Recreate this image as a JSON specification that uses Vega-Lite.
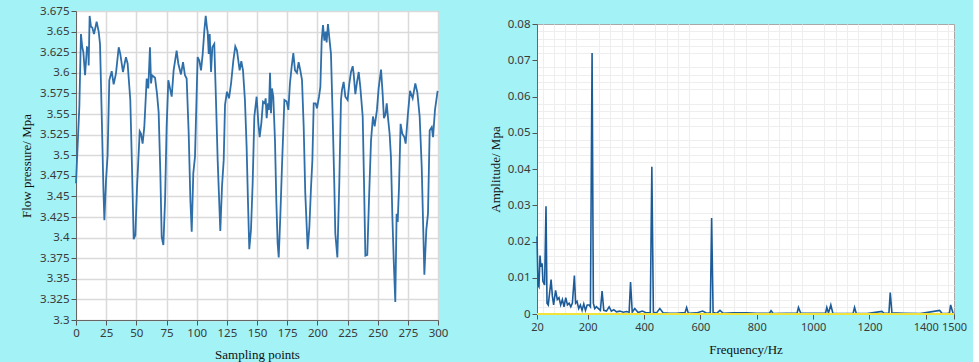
{
"$schema": "https://vega.github.io/schema/vega-lite/v6.json",
"background": "#a3f2f5",
"padding": {"left": 20, "top": 4, "right": 5, "bottom": 2},
"spacing": 39,
"config": {
  "view": {"fill": "white", "stroke": "#a8a8a8"},
  "axis": {"labelFont": "Noto Sans", "labelFontSize": 11.5, "labelColor": "#3a3a3a", "labelFlush": false, "titleFont": "Liberation Serif", "titleFontSize": 13, "titleFontWeight": "normal", "titleColor": "#111111", "gridColor": "#dadada", "tickColor": "#555555", "domainColor": "#666666", "tickSize": 5, "labelPadding": 2}
},
"hconcat": [
{
  "width": 362, "height": 309,
  "data": {"values": [
{"s":0,"p":3.466},{"s":2.8,"p":3.56},{"s":4.1,"p":3.647},{"s":5.2,"p":3.631},{"s":6.1,"p":3.625},{"s":7.5,"p":3.597},{"s":9.1,"p":3.631},{"s":10.2,"p":3.63},{"s":10.5,"p":3.609},{"s":11.3,"p":3.669},{"s":12.4,"p":3.656},{"s":13.5,"p":3.655},{"s":14.9,"p":3.647},{"s":17.1,"p":3.662},{"s":18.8,"p":3.65},{"s":19.9,"p":3.635},{"s":21.3,"p":3.55},{"s":22.7,"p":3.46},{"s":23.5,"p":3.421},{"s":24.9,"p":3.47},{"s":26.2,"p":3.5},{"s":27.6,"p":3.591},{"s":29.6,"p":3.602},{"s":31.2,"p":3.586},{"s":33.1,"p":3.599},{"s":35.4,"p":3.631},{"s":36.7,"p":3.623},{"s":38.9,"p":3.601},{"s":41.4,"p":3.619},{"s":42.8,"p":3.611},{"s":45,"p":3.567},{"s":46.4,"p":3.486},{"s":47.8,"p":3.398},{"s":49.2,"p":3.403},{"s":50.6,"p":3.462},{"s":52.8,"p":3.529},{"s":53.9,"p":3.526},{"s":55.2,"p":3.514},{"s":56.6,"p":3.534},{"s":58.6,"p":3.593},{"s":59.9,"p":3.581},{"s":61.3,"p":3.631},{"s":62.2,"p":3.587},{"s":63,"p":3.597},{"s":65.5,"p":3.594},{"s":67.1,"p":3.575},{"s":68.5,"p":3.552},{"s":69.9,"p":3.478},{"s":71,"p":3.401},{"s":72.4,"p":3.391},{"s":73.8,"p":3.445},{"s":75.1,"p":3.534},{"s":76.5,"p":3.591},{"s":78.2,"p":3.579},{"s":79.3,"p":3.571},{"s":80.9,"p":3.603},{"s":83.4,"p":3.627},{"s":84.8,"p":3.611},{"s":87,"p":3.598},{"s":88.7,"p":3.613},{"s":90.3,"p":3.597},{"s":91.7,"p":3.593},{"s":93.4,"p":3.526},{"s":94.8,"p":3.445},{"s":95.9,"p":3.407},{"s":97.2,"p":3.478},{"s":98.6,"p":3.498},{"s":100.8,"p":3.619},{"s":102.2,"p":3.615},{"s":103.6,"p":3.603},{"s":105,"p":3.623},{"s":106.4,"p":3.652},{"s":107.5,"p":3.669},{"s":108.6,"p":3.654},{"s":109.1,"p":3.65},{"s":110,"p":3.623},{"s":110.8,"p":3.647},{"s":111.9,"p":3.601},{"s":113,"p":3.631},{"s":114.6,"p":3.635},{"s":116,"p":3.567},{"s":117.4,"p":3.494},{"s":119.6,"p":3.408},{"s":121,"p":3.462},{"s":122.4,"p":3.494},{"s":123.5,"p":3.561},{"s":125.1,"p":3.577},{"s":126.8,"p":3.569},{"s":128.5,"p":3.587},{"s":130.4,"p":3.615},{"s":132,"p":3.632},{"s":133.4,"p":3.627},{"s":134.5,"p":3.615},{"s":135.6,"p":3.603},{"s":137,"p":3.614},{"s":138.4,"p":3.603},{"s":140,"p":3.567},{"s":141.4,"p":3.51},{"s":142.5,"p":3.445},{"s":143.6,"p":3.386},{"s":145,"p":3.409},{"s":146.4,"p":3.466},{"s":147.8,"p":3.547},{"s":149.7,"p":3.571},{"s":151.1,"p":3.539},{"s":152.2,"p":3.522},{"s":153.6,"p":3.539},{"s":155,"p":3.565},{"s":156.4,"p":3.563},{"s":157.2,"p":3.569},{"s":158,"p":3.545},{"s":159.1,"p":3.563},{"s":159.9,"p":3.555},{"s":160.8,"p":3.6},{"s":161.6,"p":3.551},{"s":162.4,"p":3.581},{"s":163.5,"p":3.571},{"s":164.9,"p":3.518},{"s":166,"p":3.445},{"s":167.1,"p":3.393},{"s":168,"p":3.376},{"s":169.3,"p":3.425},{"s":170.7,"p":3.486},{"s":172.7,"p":3.567},{"s":174.6,"p":3.565},{"s":176,"p":3.555},{"s":177.3,"p":3.587},{"s":178.7,"p":3.607},{"s":180.1,"p":3.624},{"s":181.5,"p":3.603},{"s":183.1,"p":3.6},{"s":184.5,"p":3.613},{"s":185.9,"p":3.603},{"s":187.3,"p":3.591},{"s":188.7,"p":3.534},{"s":190,"p":3.454},{"s":192,"p":3.386},{"s":193.4,"p":3.413},{"s":194.8,"p":3.462},{"s":195.9,"p":3.494},{"s":197,"p":3.563},{"s":198.6,"p":3.563},{"s":199.7,"p":3.557},{"s":201.4,"p":3.571},{"s":202.5,"p":3.583},{"s":203.6,"p":3.639},{"s":204.7,"p":3.658},{"s":205.8,"p":3.639},{"s":206.9,"p":3.65},{"s":207.7,"p":3.637},{"s":208.8,"p":3.659},{"s":209.9,"p":3.643},{"s":211.3,"p":3.623},{"s":212.7,"p":3.547},{"s":214.1,"p":3.462},{"s":214.9,"p":3.405},{"s":216.6,"p":3.376},{"s":218.2,"p":3.466},{"s":219.6,"p":3.567},{"s":220.4,"p":3.579},{"s":221.8,"p":3.589},{"s":223.2,"p":3.571},{"s":225.1,"p":3.567},{"s":226.5,"p":3.587},{"s":227.9,"p":3.601},{"s":229.3,"p":3.608},{"s":230.1,"p":3.599},{"s":231.5,"p":3.574},{"s":232.9,"p":3.589},{"s":234.3,"p":3.601},{"s":235.6,"p":3.583},{"s":237.6,"p":3.547},{"s":238.7,"p":3.466},{"s":239.8,"p":3.378},{"s":241.4,"p":3.379},{"s":242.8,"p":3.445},{"s":244.5,"p":3.518},{"s":246.1,"p":3.547},{"s":247.5,"p":3.535},{"s":249.4,"p":3.555},{"s":250.8,"p":3.581},{"s":252.8,"p":3.604},{"s":254.1,"p":3.575},{"s":255.2,"p":3.545},{"s":256.4,"p":3.549},{"s":257.5,"p":3.563},{"s":258.6,"p":3.545},{"s":259.9,"p":3.526},{"s":261,"p":3.498},{"s":262.2,"p":3.425},{"s":263.3,"p":3.373},{"s":264.6,"p":3.322},{"s":265.7,"p":3.429},{"s":266.6,"p":3.419},{"s":267.7,"p":3.462},{"s":269,"p":3.538},{"s":270.4,"p":3.526},{"s":272.1,"p":3.522},{"s":273.2,"p":3.514},{"s":274.9,"p":3.547},{"s":276.8,"p":3.578},{"s":279,"p":3.569},{"s":281.2,"p":3.587},{"s":282.9,"p":3.576},{"s":284.8,"p":3.547},{"s":286.5,"p":3.486},{"s":288.7,"p":3.355},{"s":290.3,"p":3.409},{"s":291.7,"p":3.429},{"s":293.1,"p":3.53},{"s":294.8,"p":3.534},{"s":295.9,"p":3.522},{"s":297.5,"p":3.555},{"s":299.7,"p":3.578}
  ]},
  "mark": {"type": "line", "color": "#2f6fa9", "strokeWidth": 1.8},
  "encoding": {
    "x": {"field": "s", "type": "quantitative", "scale": {"domain": [0, 300], "nice": false},
      "axis": {"values": [0,25,50,75,100,125,150,175,200,225,250,275,300], "format": "d", "labelOverlap": false, "title": "Sampling points", "gridWidth": 1.5, "titlePadding": 10}},
    "y": {"field": "p", "type": "quantitative", "scale": {"domain": [3.3, 3.675], "nice": false, "zero": false},
      "axis": {"values": [3.3,3.325,3.35,3.375,3.4,3.425,3.45,3.475,3.5,3.525,3.55,3.575,3.6,3.625,3.65,3.675], "format": ".3~f", "title": "Flow pressure/ Mpa", "gridWidth": 1.5, "titlePadding": 6}}
  }
},
{
  "spacing": 5,
  "vconcat": [
    {
      "width": 417, "height": 1,
      "view": {"fill": null, "stroke": null},
      "data": {"values": []},
      "mark": "point",
      "encoding": {}
    },
    {
      "width": 417, "height": 290,
      "resolve": {"axis": {"x": "independent", "y": "independent"}},
      "layer": [
        {
          "data": {"values": [
{"f":20,"a":0.0214},{"f":23.6,"a":0.008},{"f":27,"a":0.0075},{"f":30.7,"a":0.0161},{"f":34,"a":0.013},{"f":38,"a":0.014},{"f":41,"a":0.009},{"f":47,"a":0.008},{"f":52,"a":0.0297},{"f":55.5,"a":0.003},{"f":60,"a":0.0025},{"f":65,"a":0.006},{"f":70,"a":0.0095},{"f":74.5,"a":0.005},{"f":79,"a":0.0025},{"f":86,"a":0.0065},{"f":92,"a":0.004},{"f":98,"a":0.0045},{"f":104,"a":0.0025},{"f":110,"a":0.004},{"f":116,"a":0.002},{"f":122,"a":0.0045},{"f":128,"a":0.0025},{"f":134,"a":0.003},{"f":140,"a":0.002},{"f":145.6,"a":0.003},{"f":152.7,"a":0.0106},{"f":157,"a":0.003},{"f":162,"a":0.0035},{"f":168,"a":0.0015},{"f":174,"a":0.0025},{"f":180,"a":0.001},{"f":186,"a":0.0028},{"f":192,"a":0.001},{"f":198,"a":0.0025},{"f":205,"a":0.0025},{"f":209.6,"a":0.002},{"f":215.5,"a":0.072},{"f":220,"a":0.003},{"f":225,"a":0.0015},{"f":231,"a":0.002},{"f":238,"a":0.0015},{"f":245,"a":0.001},{"f":251,"a":0.0063},{"f":257,"a":0.001},{"f":266.5,"a":0.0008},{"f":276,"a":0.002},{"f":284,"a":0.0008},{"f":292.5,"a":0.0012},{"f":302,"a":0.0006},{"f":314,"a":0.0008},{"f":326,"a":0.0005},{"f":337.6,"a":0.0007},{"f":347,"a":0.0005},{"f":352,"a":0.0088},{"f":358,"a":0.0005},{"f":367,"a":0.0015},{"f":379,"a":0.0004},{"f":394,"a":0.0008},{"f":408.6,"a":0.0003},{"f":422,"a":0.0004},{"f":427.6,"a":0.0406},{"f":433,"a":0.0005},{"f":444,"a":0.0003},{"f":456,"a":0.0015},{"f":468,"a":0.0003},{"f":491.6,"a":0.0002},{"f":515,"a":0.0002},{"f":533,"a":0.0003},{"f":545,"a":0.0003},{"f":551,"a":0.0018},{"f":557,"a":0.0002},{"f":586,"a":0.0003},{"f":608,"a":0.0008},{"f":622,"a":0.0002},{"f":635,"a":0.0003},{"f":639.8,"a":0.0265},{"f":645,"a":0.0004},{"f":657.6,"a":0.0002},{"f":669.4,"a":0.001},{"f":681,"a":0.0002},{"f":716.8,"a":0.0003},{"f":764,"a":0.0003},{"f":800,"a":0.0002},{"f":845,"a":0.0002},{"f":850.7,"a":0.0009},{"f":859,"a":0.0001},{"f":906,"a":0.0002},{"f":943,"a":0.0002},{"f":948,"a":0.0018},{"f":956,"a":0.0002},{"f":1001,"a":0.0002},{"f":1044,"a":0.0002},{"f":1048.6,"a":0.0018},{"f":1054.5,"a":0.0003},{"f":1062.8,"a":0.0025},{"f":1070,"a":0.0002},{"f":1108,"a":0.0001},{"f":1142,"a":0.0002},{"f":1147,"a":0.0018},{"f":1153,"a":0.0002},{"f":1191,"a":0.0001},{"f":1244,"a":0.0007},{"f":1252,"a":0.0002},{"f":1269,"a":0.0002},{"f":1273.7,"a":0.0059},{"f":1279.6,"a":0.0003},{"f":1321,"a":0.0002},{"f":1380,"a":0.0001},{"f":1449,"a":0.001},{"f":1457,"a":0.0002},{"f":1475,"a":0.0001},{"f":1484,"a":0.0003},{"f":1488,"a":0.0025},{"f":1496.6,"a":0.0002},{"f":1500,"a":0.0}
          ]},
          "mark": {"type": "line", "color": "#1d5b98", "strokeWidth": 1.6},
          "encoding": {
            "x": {"field": "f", "type": "quantitative", "scale": {"domain": [20, 1500], "nice": false},
              "axis": {"orient": "bottom", "values": [40,80,120,160,240,280,320,360,440,480,520,560,640,680,720,760,840,880,920,960,1040,1080,1120,1160,1240,1280,1320,1360,1440,1480], "labels": false, "ticks": false, "domain": false, "title": null, "gridColor": "#eeeeee", "gridWidth": 1}},
            "y": {"field": "a", "type": "quantitative", "scale": {"domain": [0, 0.08], "nice": false},
              "axis": {"orient": "left", "values": [0.002,0.004,0.006,0.008,0.012,0.014,0.016,0.018,0.022,0.024,0.026,0.028,0.032,0.034,0.036,0.038,0.042,0.044,0.046,0.048,0.052,0.054,0.056,0.058,0.062,0.064,0.066,0.068,0.072,0.074,0.076,0.078], "labels": false, "ticks": false, "domain": false, "title": null, "gridColor": "#eeeeee", "gridWidth": 1}}
          }
        },
        {
          "data": {"values": [{"f": 20, "a": 0}, {"f": 1500, "a": 0}]},
          "mark": {"type": "line", "color": "#f2e33a", "strokeWidth": 2},
          "encoding": {
            "x": {"field": "f", "type": "quantitative",
              "axis": {"orient": "bottom", "values": [20,200,400,600,800,1000,1200,1400,1500], "format": "d", "labelOverlap": false, "labelFontSize": 11, "title": "Frequency/Hz", "gridColor": "#d6d6d6", "titlePadding": 11}},
            "y": {"field": "a", "type": "quantitative",
              "axis": {"orient": "left", "values": [0,0.01,0.02,0.03,0.04,0.05,0.06,0.07,0.08], "format": ".2~f", "title": "Amplitude/ Mpa", "gridColor": "#d6d6d6", "titlePadding": 5}}
          }
        }
      ]
    }
  ]
}
]
}
